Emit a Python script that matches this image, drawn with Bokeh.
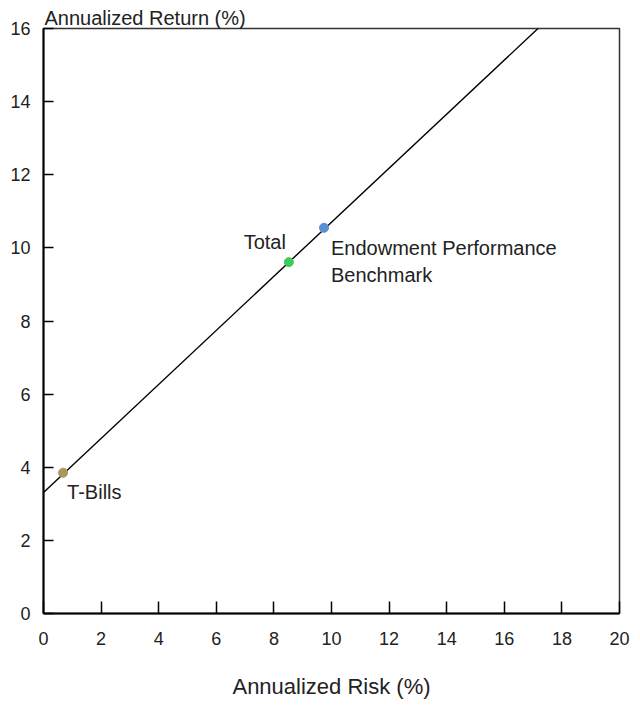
from bokeh.plotting import figure
from bokeh.models import Range1d, FixedTicker, Label, ColumnDataSource
from bokeh.embed import file_html
from bokeh.resources import INLINE

# ---- data ----
point_names = ["T-Bills", "Total", "Endowment Performance\nBenchmark"]
point_risk = [0.68, 8.52, 9.74]
point_return = [3.85, 9.61, 10.55]
point_colors = ["#A89A5C", "#3DCC5A", "#5B8FD4"]

line_risk = [0.0, 17.17]
line_return = [3.31, 16.0]

x_ticks = [0, 2, 4, 6, 8, 10, 12, 14, 16, 18, 20]
y_ticks = [0, 2, 4, 6, 8, 10, 12, 14, 16]

FONT = "Liberation Sans"

p = figure(frame_width=576, frame_height=585,
           min_border_left=43, min_border_right=21,
           min_border_top=28, min_border_bottom=92,
           x_range=Range1d(0, 20), y_range=Range1d(0, 16),
           output_backend="svg", toolbar_location=None,
           background_fill_color="white", border_fill_color="white",
           title="Annualized Return (%)")

p.title.text_font = FONT
p.title.text_font_size = "20px"
p.title.text_font_style = "normal"
p.title.text_color = "#222222"
p.title.align = "left"
p.title.offset = 1
p.title.standoff = 0

p.xgrid.visible = False
p.ygrid.visible = False
p.outline_line_color = "#333333"
p.outline_line_width = 1.5

for ax in (p.xaxis[0], p.yaxis[0]):
    ax.axis_line_color = "black"
    ax.axis_line_width = 2
    ax.major_tick_line_color = "black"
    ax.major_tick_line_width = 1.5
    ax.major_tick_out = 0
    ax.minor_tick_line_color = None
    ax.major_label_text_font = FONT
    ax.major_label_text_font_size = "18px"
    ax.major_label_text_color = "#222222"

p.xaxis[0].ticker = FixedTicker(ticks=x_ticks)
p.yaxis[0].ticker = FixedTicker(ticks=y_ticks)
p.xaxis[0].major_tick_in = 12
p.yaxis[0].major_tick_in = 10
p.xaxis[0].major_label_standoff = 18
p.yaxis[0].major_label_standoff = 13

p.xaxis[0].axis_label = "Annualized Risk (%)"
p.xaxis[0].axis_label_text_font = FONT
p.xaxis[0].axis_label_text_font_size = "22px"
p.xaxis[0].axis_label_text_font_style = "normal"
p.xaxis[0].axis_label_text_color = "#222222"
p.xaxis[0].axis_label_standoff = 26

# capital market line
p.line(line_risk, line_return, line_color="black", line_width=1.4)

src = ColumnDataSource(dict(x=point_risk, y=point_return, c=point_colors))
p.scatter("x", "y", source=src, size=9, fill_color="c", line_color="c")

# point labels
p.add_layout(Label(x=point_risk[0], y=point_return[0], x_offset=4, y_offset=-8,
                   text=point_names[0], text_font=FONT, text_font_size="20px",
                   text_color="#222222", text_baseline="top", text_align="left"))
p.add_layout(Label(x=point_risk[1], y=point_return[1], x_offset=-3, y_offset=31,
                   text=point_names[1], text_font=FONT, text_font_size="20px",
                   text_color="#222222", text_baseline="top", text_align="right"))
p.add_layout(Label(x=point_risk[2], y=point_return[2], x_offset=7, y_offset=-9,
                   text=point_names[2], text_font=FONT, text_font_size="20px",
                   text_color="#222222", text_baseline="top", text_align="left",
                   text_line_height=1.25))

open("out.html", "w").write(file_html(p, INLINE))
